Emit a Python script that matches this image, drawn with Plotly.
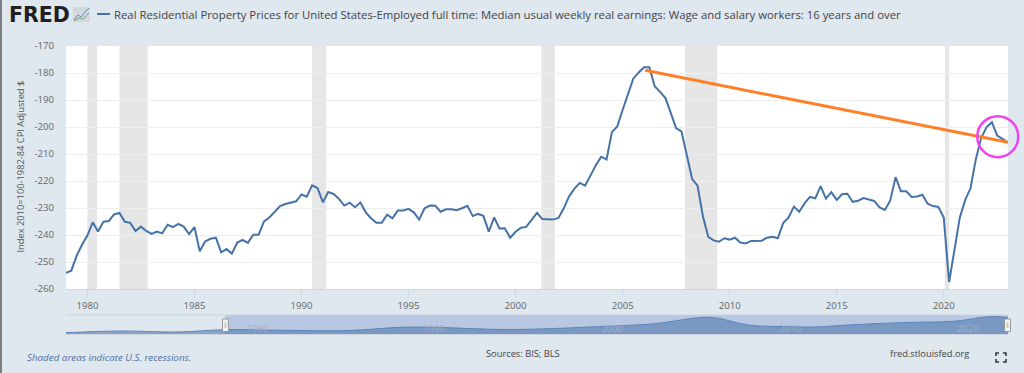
import pandas as pd
import plotly.graph_objects as go

W, H = 1024, 373
SERIES_NAME = "Real Residential Property Prices for United States-Employed full time: Median usual weekly real earnings: Wage and salary workers: 16 years and over"
Y_TITLE = "Index 2010=100-1982-84 CPI Adjusted $"

values = [
 -254, -253.2, -247.7, -243.6, -240.2, -235.3, -238.7, -235.1, -234.8, -232.4, -231.8, -235.1, -235.5, -238.5, -236.9, -238.5,
 -239.6, -238.7, -239.4, -236.2, -237.1, -235.9, -236.9, -239.7, -237.1, -246, -242.4, -241.4, -241, -246.4, -245.2, -246.9,
 -242.8, -241.8, -242.9, -239.9, -239.9, -235, -233.5, -231.3, -229.3, -228.5, -227.9, -227.5, -225, -225.8, -221.6, -222.6,
 -227.9, -224.1, -224.8, -226.6, -229.1, -228, -229.7, -228, -231.6, -233.8, -235.5, -235.5, -232.5, -233.8, -230.9, -230.9,
 -230.3, -231.6, -234.3, -230.1, -229.1, -229.2, -231.4, -230.5, -230.5, -230.8, -230.1, -229.2, -233, -232.2, -232.9, -238.8,
 -233.5, -237.6, -237.5, -241, -238.8, -237.3, -237, -234.4, -231.8, -234.1, -234.3, -234.3, -233.7, -230.2, -225.7, -222.8,
 -220.7, -221.7, -218, -214.2, -211, -212, -201.9, -199.8, -193.6, -188, -182.1, -179.8, -177.9, -177.9, -184.9, -187,
 -189.3, -194.8, -200.4, -201.6, -210.6, -219.3, -221.7, -233.1, -240.7, -242, -242.5, -241.2, -241.7, -241, -242.8, -243.1,
 -242.2, -242.1, -242.1, -241, -240.7, -241.2, -235.6, -233.5, -229.5, -231.4, -228.3, -225.9, -226.4, -221.9, -226.5, -224.1,
 -227, -224.9, -224.7, -227.7, -227.3, -226.3, -226.9, -227.4, -229.8, -230.7, -227.3, -218.6, -223.8, -223.8, -225.9, -225.7,
 -225.1, -228.4, -229.3, -229.6, -233.5, -257.4, -245.6, -233.5, -227, -222.7, -212, -204, -200, -198.2, -203.2, -204.5, -205.7,
]
dates = pd.date_range("1979-01-01", periods=len(values), freq="QS")

trend_x = ["2006-01-20", "2023-01-01"]
trend_y = [-179, -205.7]
circle_x = ["2022-07-10"]
circle_y = [-203.6]

recessions = [
 ("1980-01-01", "1980-06-15"), ("1981-07-01", "1982-10-25"), ("1990-07-01", "1991-03-01"),
 ("2001-03-15", "2001-11-01"), ("2007-12-01", "2009-06-01"), ("2020-01-20", "2020-04-01"),
]

nav_years = [1970, 1973.03, 1976.3, 1978.9, 1982.6, 1986, 1988.8, 1990.7, 1995, 2000.7, 2003.1, 2005.9, 2006.7,
             2008.4, 2011.2, 2012.1, 2014, 2016.9, 2020.1, 2021.9, 2023]
nav_values = [-240.8, -234, -238, -228.8, -231.6, -232, -219.2, -219.2, -228, -214, -204.8, -179.2, -183.2,
              -210, -217.2, -218, -210, -200.8, -194, -176.8, -179.2]
nav_floor = -248
nav_ticks = [1980, 1990, 2000, 2010, 2020]
y_ticks = list(range(-260, -169, 10))
x_ticks = list(range(1980, 2021, 5))

PAGE = "#dfe7ef"
BLUE = "#4572a7"
def px(x): return x / W
def py(y): return (H - y) / H

fig = go.Figure()
fig.add_trace(go.Scatter(x=dates, y=values, mode="lines", name=SERIES_NAME,
                         line=dict(color=BLUE, width=2), showlegend=False))
fig.add_trace(go.Scatter(x=trend_x, y=trend_y, mode="lines", line=dict(color="#ff7f27", width=3), showlegend=False))
fig.add_trace(go.Scatter(x=circle_x, y=circle_y, mode="markers", showlegend=False, cliponaxis=False,
                         marker=dict(symbol="circle-open", size=41, color="#ee44ee", line=dict(color="#ee44ee", width=2.5))))
fig.add_trace(go.Scatter(x=nav_years, y=[nav_floor] * len(nav_years), mode="lines", xaxis="x2", yaxis="y2",
                         showlegend=False, line=dict(width=0)))
fig.add_trace(go.Scatter(x=nav_years, y=nav_values, mode="lines", xaxis="x2", yaxis="y2", showlegend=False,
                         line=dict(color="#5d84b8", width=1, shape="spline"), fill="tonexty",
                         fillcolor="rgba(69,114,167,0.55)"))

shapes = []
for a, b in recessions:
    shapes.append(dict(type="rect", xref="x", yref="paper", x0=a, x1=b, y0=py(289), y1=py(46),
                       fillcolor="#e6e6e6", line_width=0, layer="below"))
# navigator
shapes.append(dict(type="rect", xref="x2", yref="paper", x0=1970, x1=1978.93, y0=py(334.5), y1=py(315),
                   fillcolor=PAGE, line_width=0, layer="below"))
shapes.append(dict(type="rect", xref="x2", yref="paper", x0=1978.93, x1=2023, y0=py(334.5), y1=py(315),
                   fillcolor="#b9c8e2", line_width=0, layer="below"))
shapes.append(dict(type="line", xref="paper", yref="paper", x0=px(66), x1=px(1008), y0=py(315), y1=py(315),
                   line=dict(color="#ccd3de", width=1), layer="below"))
shapes.append(dict(type="line", xref="paper", yref="paper", x0=px(66), x1=px(1008), y0=py(334.5), y1=py(334.5),
                   line=dict(color="#ccd3de", width=1)))
for hx in (225.5, 1007.5):
    shapes.append(dict(type="rect", xref="paper", yref="paper", x0=px(hx-3), x1=px(hx+3), y0=py(331.5), y1=py(319),
                       fillcolor="#f2f2f2", line=dict(color="#999999", width=1)))
    shapes.append(dict(type="rect", xref="paper", yref="paper", x0=px(hx-1), x1=px(hx+1), y0=py(328), y1=py(322.5),
                       fillcolor="#c8c8c8", line_width=0))
# left page edge
shapes.append(dict(type="rect", xref="paper", yref="paper", x0=0, x1=px(2), y0=0, y1=1, fillcolor="#7d7d7d", line_width=0))
# legend swatch
shapes.append(dict(type="line", xref="paper", yref="paper", x0=px(97), x1=px(110), y0=py(14), y1=py(14),
                   line=dict(color=BLUE, width=2)))
# logo icon
shapes.append(dict(type="rect", xref="paper", yref="paper", x0=px(73), x1=px(90), y0=py(22), y1=py(7),
                   fillcolor="#d3d8dc", line_width=0))
def poly(pts):
    return "M " + " L ".join(f"{px(a):.5f},{py(b):.5f}" for a, b in pts)
shapes.append(dict(type="path", xref="paper", yref="paper", path=poly([(74, 20), (78, 15), (81, 17), (85, 12), (89, 8)]),
                   line=dict(color="#5b8bc0", width=1)))
shapes.append(dict(type="path", xref="paper", yref="paper", path=poly([(74, 21), (79, 18), (83, 19), (89, 13)]),
                   line=dict(color="#7fa867", width=1)))
# fullscreen icon
for cx, cy, dx, dy in [(996, 353, 1, 1), (1006, 353, -1, 1), (996, 362, 1, -1), (1006, 362, -1, -1)]:
    shapes.append(dict(type="path", xref="paper", yref="paper",
                       path=poly([(cx + 3*dx, cy), (cx, cy), (cx, cy + 3*dy)]), line=dict(color="#333333", width=1.5)))

FONT = "Open Sans, Noto Sans, sans-serif"
def note(x, y, text, size=11, color="#555555", anchor="left", **kw):
    return dict(xref="paper", yref="paper", x=px(x), y=py(y), text=text, showarrow=False, xanchor=anchor,
                yanchor="middle", font=dict(size=size, color=color, family=FONT), **kw)

annotations = [
    dict(xref="paper", yref="paper", x=px(8), y=py(15), text="<b>FRED</b>", showarrow=False, xanchor="left", yanchor="middle",
         borderpad=0, font=dict(size=20.5, color="#231f20", family="DejaVu Sans, sans-serif")),
    note(112, 14.5, SERIES_NAME, size=11.35, color="#444444"),
    note(25, 357, "<i>Shaded areas indicate U.S. recessions.</i>", size=9.8, color="#4f6f9f"),
    note(483.5, 353, "Sources: BIS; BLS", size=9.3, color="#444444"),
    note(887.5, 353, "fred.stlouisfed.org", size=9.3, color="#444444"),
    note(19.5, 167, Y_TITLE, size=9.3, color="#555555", anchor="center", textangle=-90),
]
for t in nav_ticks:
    annotations.append(dict(xref="x2", yref="paper", x=t, y=py(328), xshift=13, text=str(t), showarrow=False,
                            yanchor="middle", font=dict(size=9.6, color="#a3aec4", family=FONT)))

fig.update_layout(
    width=W, height=H, margin=dict(l=0, r=0, t=0, b=0, pad=0), autosize=False,
    paper_bgcolor=PAGE, plot_bgcolor="#ffffff", font=dict(family=FONT),
    shapes=shapes, annotations=annotations, hovermode=False,
    xaxis=dict(domain=[px(66), px(1008)], range=["1979-01-01", "2023-01-01"], anchor="y", type="date",
               tickvals=[f"{y}-01-01" for y in x_ticks], ticktext=[str(y) for y in x_ticks],
               ticks="outside", ticklen=7, tickcolor="#ccd6eb", tickwidth=1, showgrid=False,
               showline=True, linecolor="#ccd6eb", linewidth=1, tickfont=dict(size=9.6, color="#666666"), zeroline=False),
    yaxis=dict(domain=[py(289), py(46)], range=[-260, -170], anchor="x", tickvals=y_ticks, ticktext=[str(v) for v in y_ticks],
               showgrid=True, gridcolor="#eeeeee", gridwidth=1, zeroline=False, ticks="", ticklabelstandoff=11,
               tickfont=dict(size=9.6, color="#666666"), automargin=False),
    xaxis2=dict(domain=[px(66), px(1008)], range=[1970, 2023], anchor="y2", visible=False),
    yaxis2=dict(domain=[py(334.5), py(315)], range=[nav_floor, -170], anchor="x2", visible=False),
)

fig.write_html("out.html", config=dict(displayModeBar=False, responsive=False),
               post_script="document.body.style.margin='0';document.body.style.overflow='hidden';")
